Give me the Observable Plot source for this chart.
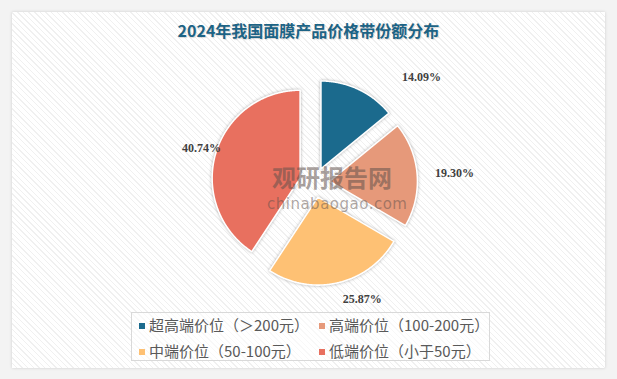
<!DOCTYPE html>
<html><head><meta charset="utf-8">
<script src="https://cdn.jsdelivr.net/npm/d3@7"></script>
<script src="https://cdn.jsdelivr.net/npm/@observablehq/plot@0.6"></script>
<style>
body{margin:0;background:#f3f3f3;}
#wrap{position:relative;width:617px;height:379px;overflow:hidden;background:#f3f3f3;font-family:"Noto Sans CJK SC",sans-serif;}
#card{position:absolute;left:12px;top:12px;width:593px;height:356px;background:repeating-linear-gradient(45deg,#ffffff 0px,#ffffff 3px,#f0f0f0 3px,#f0f0f0 4px);box-shadow:0 0 3px rgba(0,0,0,0.15);}
#title{position:absolute;left:0;width:617px;top:19px;text-align:center;font-weight:bold;font-size:16px;line-height:22px;color:#1c6385;text-shadow:1px 1px 1px rgba(0,0,0,0.15);}
#chart{position:absolute;left:0;top:0;}
#wm1{position:absolute;left:272px;top:164px;font-weight:bold;font-size:24px;line-height:26px;color:rgba(95,80,75,0.55);letter-spacing:0px;}
#wm2{position:absolute;left:267px;top:197px;font-family:"DejaVu Sans",sans-serif;font-size:15px;line-height:15px;color:rgba(95,80,75,0.5);letter-spacing:0.5px;}
#legend{position:absolute;left:131px;top:312px;width:357px;height:47px;border:1px solid #d9d9d9;background:rgba(255,255,255,0.5);}
.item{position:absolute;font-size:15px;line-height:18px;color:#595959;white-space:nowrap;}
.sw{display:inline-block;width:6px;height:6px;margin-right:4px;vertical-align:middle;position:relative;top:-1px;}
</style></head>
<body>
<div id="wrap">
  <div id="card"></div>
  <div id="title"></div>
  <div id="chart"></div>
  <div id="wm1">观研报告网</div>
  <div id="wm2">chinabaogao.com</div>
  <div id="legend"></div>
</div>
<script>
const title = "2024年我国面膜产品价格带份额分布";
const categories = ["超高端价位（＞200元）", "高端价位（100-200元）", "中端价位（50-100元）", "低端价位（小于50元）"];
const shares = [14.09, 19.30, 25.87, 40.74];
const valueLabels = ["14.09%", "19.30%", "25.87%", "40.74%"];
const colors = ["#1b6a8d", "#e6997a", "#fec174", "#e8705f"];

document.getElementById("title").textContent = title;

// layout (pixels)
const W = 617, H = 379, cx = 314, cy = 182, R = 88, explode = 15 / 88;
// label nudges (in radius units) relative to a point at 1.45R on the slice's mid-angle
const labelNudge = [[0.595, -0.117], [0.146, -0.014], [0.211, 0.081], [0.105, -0.031]];

const total = d3.sum(shares);
let acc = 0;
const slices = shares.map((v, i) => {
  const a0 = acc / total * 2 * Math.PI;
  acc += v;
  const a1 = acc / total * 2 * Math.PI;
  return {cat: categories[i], a0, a1, mid: (a0 + a1) / 2, label: valueLabels[i], i};
});

const pts = [];
for (const s of slices) {
  const ox = explode * Math.sin(s.mid), oy = explode * Math.cos(s.mid);
  pts.push({cat: s.cat, x: ox, y: oy});
  const n = Math.max(2, Math.ceil((s.a1 - s.a0) / (Math.PI / 360)));
  for (let k = 0; k <= n; k++) {
    const a = s.a0 + (s.a1 - s.a0) * k / n;
    pts.push({cat: s.cat, x: ox + Math.sin(a), y: oy + Math.cos(a)});
  }
  pts.push({cat: s.cat, x: ox, y: oy});
}

const labels = slices.map(s => ({
  label: s.label,
  x: 1.45 * Math.sin(s.mid) + labelNudge[s.i][0],
  y: 1.45 * Math.cos(s.mid) + labelNudge[s.i][1]
}));

const plot = Plot.plot({
  width: W, height: H, margin: 0,
  style: {background: "transparent", overflow: "visible"},
  x: {domain: [-cx / R, (W - cx) / R], axis: null},
  y: {domain: [-(H - cy) / R, cy / R], axis: null},
  color: {domain: categories, range: colors},
  marks: [
    Plot.line(pts, {x: "x", y: "y", z: "cat", fill: "cat", stroke: "white", strokeWidth: 1.6, strokeLinejoin: "round", curve: "linear"}),
    Plot.text(labels, {x: "x", y: "y", text: "label", fontFamily: "Liberation Serif", fontWeight: "bold", fontSize: 12, fill: "#404040"})
  ]
});
plot.querySelectorAll('g[aria-label="line"]').forEach(g => g.style.filter = "drop-shadow(0px 0px 1.5px rgba(0,0,0,0.3))");
document.getElementById("chart").appendChild(plot);

// legend
const legend = document.getElementById("legend");
const pos = [[7, 3], [187, 3], [7, 29], [187, 29]];
categories.forEach((c, i) => {
  const d = document.createElement("div");
  d.className = "item";
  d.style.left = pos[i][0] + "px";
  d.style.top = pos[i][1] + "px";
  d.innerHTML = `<span class="sw" style="background:${colors[i]}"></span>${c}`;
  legend.appendChild(d);
});
</script>
</body></html>
